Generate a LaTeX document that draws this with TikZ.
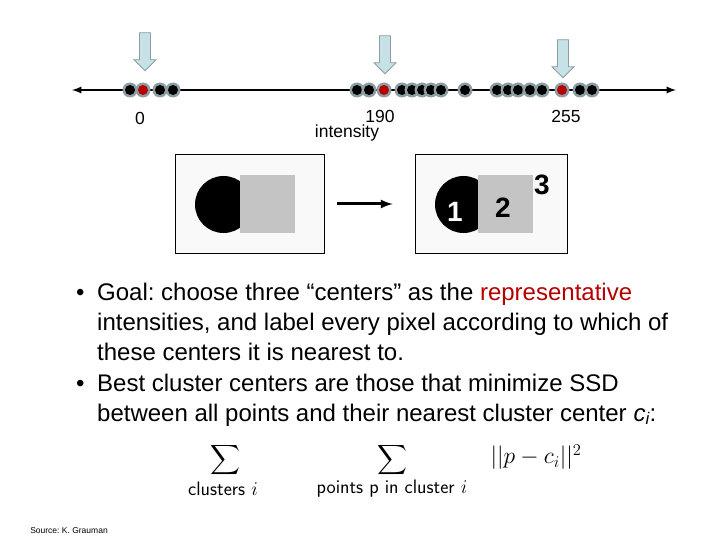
\RequirePackage{fix-cm}
\documentclass[tikz,border=0pt]{standalone}
\usepackage{amsmath}
\usepackage{fontspec}
\setmainfont{Liberation Sans}
\usetikzlibrary{shapes.arrows}
\usetikzlibrary{positioning}
\frenchspacing

\definecolor{ringgray}{HTML}{8E9DA1}
\definecolor{pickblue}{HTML}{C6E2E7}
\definecolor{centred}{HTML}{B40000}
\definecolor{regiongray}{HTML}{C4C4C4}

\begin{document}
\begin{tikzpicture}[x=1pt,y=-1pt,inner sep=0pt,
    ring/.style={circle,fill=ringgray,minimum size=15pt},
    pix/.style={circle,fill=#1,minimum size=10pt},
    pick/.style={single arrow,rotate=-90,draw=ringgray,fill=pickblue,
        thick,minimum height=38pt,minimum width=22pt,inner sep=5pt,
        single arrow head extend=5.5pt},
    imgbox/.style={draw,fill=gray!5,thick,minimum width=#1,minimum height=99pt},
    lbl/.style={font=\fontsize{17.5}{20}\selectfont},
    big/.style={font=\bfseries\fontsize{28}{28}\selectfont},
    txt/.style={anchor=base west,font=\fontsize{24}{28}\selectfont},
    under/.style={font=\sffamily\fontsize{19.5}{22}\selectfont},
    bigsum/.style={font=\fontsize{21}{24}\selectfont}]
    \useasboundingbox (0,0) rectangle (720,540);
    % intensity axis
    \coordinate (lo) at (72,90);
    \coordinate (hi) at (676,90);
    \draw[line width=2.2pt,latex-latex] (lo) -- (hi);
    \foreach \x/\c [count=\i] in {130/black,143/centred,160/black,173/black,
        357/black,369/black,384/centred,402/black,412/black,422/black,
        431/black,441/black,465/black,497/black,508/black,518/black,
        530/black,542/black,562/centred,580/black,592/black}
    {
        \node[ring] (r\i) at (\x,90) {};
        \node[pix=\c] (p\i) at (r\i) {};
    }
    \node[pick] (pk1) at (145,49) {};
    \node[pick] (pk2) at (385,52) {};
    \node[pick] (pk3) at (563,56) {};
    \node[lbl] (v0) at (140,118) {0};
    \node[lbl] (v190) at (380,116) {190};
    \node[lbl] (vlab) at (347,133) {intensity};
    \node[lbl] (v255) at (566,116) {255};
    % images
    \node[imgbox=149pt] (imgA) at (249.5,204) {};
    \fill (223.5,204.5) circle (28.5);
    \fill[regiongray] (240,175) rectangle (295,233);
    \node[imgbox=152pt] (imgB) at (491,204) {};
    \fill (463.5,204.5) circle (28.5);
    \fill[regiongray] (478,175) rectangle (533,233);
    \node[big,white] (n1) at (455,212) {1};
    \node[big] (n2) at (503,208) {2};
    \node[big] (n3) at (542,185) {3};
    \draw[line width=3pt,-latex,shorten <=13pt,shorten >=22pt] (imgA) -- (imgB);
    % bullets
    \node[txt] (d1) at (76,300) {\textbullet};
    \node[txt] (g1) at (97,300) {Goal: choose three “centers” as the \textcolor{centred}{representative}};
    \node[txt] (g2) at (97,330) {intensities, and label every pixel according to which of};
    \node[txt] (g3) at (97,360) {these centers it is nearest to.};
    \node[txt] (d2) at (76,391) {\textbullet};
    \node[txt] (s1) at (97,391) {Best cluster centers are those that minimize SSD};
    \node[txt] (s2) at (97,421) {between all points and their nearest cluster center \textit{c\textsubscript{i}}:};
    % objective
    \node[bigsum] (sum1) at (225,465) {$\displaystyle\smash{\sum}$};
    \node[under] (cl1) at (223,489) {clusters $i$};
    \node[bigsum] (sum2) at (392,465) {$\displaystyle\smash{\sum}$};
    \node[under] (cl2) at (392,489) {points p in cluster $i$};
    \node[font=\fontsize{23.5}{26}\selectfont] (nrm) at (536,457) {$||p-c_i||^2$};
    \node[font=\fontsize{8.5}{10}\selectfont] (src) at (69,531) {Source: K. Grauman};
\end{tikzpicture}
\end{document}
